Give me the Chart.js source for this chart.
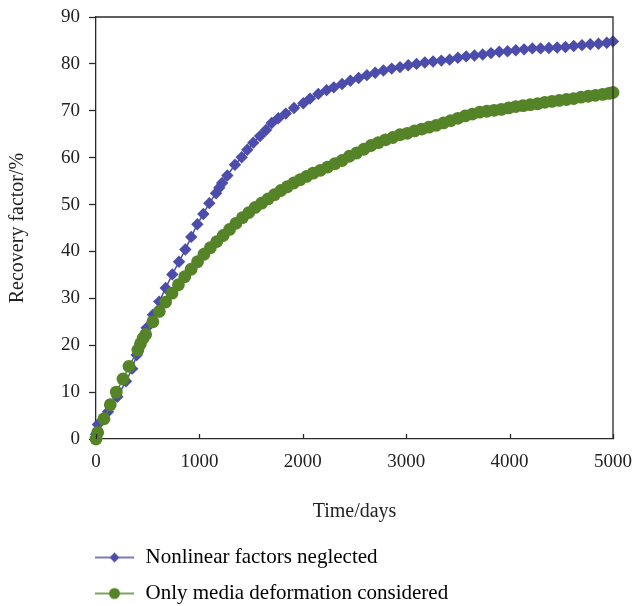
<!DOCTYPE html>
<html><head><meta charset="utf-8">
<script src="https://cdn.jsdelivr.net/npm/chart.js@4.4.1/dist/chart.umd.min.js"></script>
<style>html,body{margin:0;padding:0;background:#fff;}#wrap{width:634px;height:606px;}</style>
</head><body><div id="wrap"><canvas id="c" width="634" height="606"></canvas></div>
<script>
// ---- data ----
const seriesNames = ['Nonlinear factors neglected', 'Only media deformation considered'];

const blueDays = [0, 19, 116, 206, 290, 350, 394, 440, 490, 551, 612, 674, 738, 803, 864, 921, 980, 1038, 1096, 1161, 1192, 1220, 1270, 1344, 1409, 1463, 1521, 1586, 1644, 1699, 1763, 1835, 1915, 2005,
  2070, 2150, 2230, 2300, 2380, 2460, 2540, 2620, 2700, 2780, 2860, 2940, 3020, 3100, 3180, 3260, 3340, 3420, 3500, 3580, 3660, 3740, 3820, 3900, 3980, 4060, 4140, 4220, 4300, 4380, 4460, 4540, 4620, 4700, 4780, 4860, 4940, 5000];
const blueRecovery = [1.0, 3.1, 5.8, 9.0, 12.3, 15.0, 17.9, 20.8, 23.7, 26.5, 29.3, 32.2, 35.1, 37.8, 40.4, 43.1, 45.8, 48.0, 50.3, 52.4, 53.6, 54.6, 56.2, 58.5, 60.1, 61.7, 63.2, 64.6, 65.9, 67.4, 68.4, 69.4, 70.6, 71.6,
  72.6, 73.6, 74.4, 75.0, 75.7, 76.4, 77.0, 77.6, 78.1, 78.6, 79.0, 79.3, 79.7, 80.0, 80.3, 80.5, 80.7, 80.9, 81.3, 81.6, 81.8, 82.0, 82.3, 82.6, 82.7, 82.9, 83.1, 83.3, 83.3, 83.4, 83.5, 83.6, 83.8, 84.0, 84.2, 84.3, 84.5, 84.8];

const greenDays = [0, 16, 77, 138, 196, 261, 319, 405, 430, 455, 480, 550, 612, 673, 735, 797, 858, 920, 982, 1044, 1106, 1168, 1230, 1292, 1354, 1416, 1478, 1540, 1602, 1664, 1726, 1788, 1850, 1912, 1974, 2036,
  2100, 2170, 2240, 2310, 2380, 2450, 2520, 2590, 2660, 2730, 2800, 2870, 2940, 3010, 3080, 3150, 3220, 3290, 3360, 3430, 3500, 3570, 3640, 3710, 3780, 3850, 3920, 3990, 4060, 4130, 4200, 4270, 4340, 4410, 4480, 4550, 4620, 4690, 4760, 4830, 4900, 4960, 5000];
const greenRecovery = [0, 1.4, 4.3, 7.3, 10.0, 12.8, 15.5, 19.0, 20.3, 21.5, 22.3, 25.0, 27.2, 29.2, 31.1, 32.9, 34.6, 36.2, 37.8, 39.4, 40.8, 42.1, 43.4, 44.7, 46.0, 47.2, 48.3, 49.4, 50.3, 51.2, 52.1, 53.0, 53.8, 54.6, 55.3, 56.0,
  56.7, 57.3, 58.0, 58.7, 59.4, 60.3, 61.0, 61.8, 62.6, 63.2, 63.8, 64.3, 64.9, 65.2, 65.7, 66.1, 66.5, 66.9, 67.4, 67.9, 68.4, 68.9, 69.3, 69.7, 69.9, 70.1, 70.3, 70.6, 70.9, 71.1, 71.3, 71.5, 71.8, 72.0, 72.2, 72.4, 72.6, 72.9, 73.1, 73.3, 73.5, 73.7, 73.9];

const xTicks = [0, 1000, 2000, 3000, 4000, 5000];
const yTicks = [0, 10, 20, 30, 40, 50, 60, 70, 80, 90];

// ---- styling ----
const BLUE = '#4b4cab';
const GREEN = '#558327';
const AXIS = '#2a2a2a';
const FONT = "'Liberation Serif', 'Times New Roman', serif";

function toPoints(xs, ys) { return xs.map((x, i) => ({ x: x, y: ys[i] })); }

function legendSample(color, kind) {
  const c = document.createElement('canvas');
  c.width = 120; c.height = 16;
  const g = c.getContext('2d');
  g.strokeStyle = color; g.lineWidth = 1.5;
  g.beginPath(); g.moveTo(80, 8); g.lineTo(119, 8); g.stroke();
  g.fillStyle = color;
  g.beginPath();
  if (kind === 'diamond') {
    g.moveTo(99.5, 3); g.lineTo(104.5, 8); g.lineTo(99.5, 13); g.lineTo(94.5, 8); g.closePath();
  } else {
    g.arc(99.5, 8, 5.5, 0, Math.PI * 2);
  }
  g.fill();
  return c;
}
const samples = [legendSample(BLUE, 'diamond'), legendSample(GREEN, 'circle')];

const frame = {
  id: 'frame',
  afterDatasetsDraw(chart) {
    const { ctx, chartArea: a, scales } = chart;
    ctx.save();
    ctx.strokeStyle = AXIS; ctx.lineWidth = 1.3;
    ctx.beginPath();
    ctx.moveTo(a.left, a.top); ctx.lineTo(a.right, a.top); ctx.lineTo(a.right, a.bottom);
    ctx.stroke();
    ctx.beginPath();
    xTicks.forEach(v => {
      const px = Math.round(scales.x.getPixelForValue(v)) + 0.5;
      ctx.moveTo(px, a.bottom); ctx.lineTo(px, a.bottom - 5);
    });
    ctx.stroke();
    ctx.restore();
  }
};

Chart.defaults.font.family = FONT;
Chart.defaults.color = '#222';

new Chart(document.getElementById('c'), {
  type: 'line',
  data: {
    datasets: [
      {
        label: seriesNames[0], data: toPoints(blueDays, blueRecovery),
        borderColor: BLUE, backgroundColor: BLUE, borderWidth: 1.5,
        pointStyle: 'rectRot', pointRadius: 6.2, pointBorderWidth: 0, pointHoverRadius: 6.2,
        order: 1, clip: false, tension: 0
      },
      {
        label: seriesNames[1], data: toPoints(greenDays, greenRecovery),
        borderColor: GREEN, backgroundColor: GREEN, borderWidth: 1.5,
        pointStyle: 'circle', pointRadius: 6.4, pointBorderWidth: 0, pointHoverRadius: 6.4,
        order: 0, clip: false, tension: 0
      }
    ]
  },
  options: {
    responsive: false, animation: false, devicePixelRatio: 1,
    layout: { padding: { left: 0, right: 21, top: 17, bottom: -8 } },
    plugins: {
      tooltip: { enabled: false },
      legend: {
        position: 'bottom', align: 'start',
        labels: {
          usePointStyle: true, pointStyleWidth: 120, padding: 15,
          font: { size: 21, family: FONT }, color: '#222',
          generateLabels: (chart) => chart.data.datasets.map((ds, i) => ({
            text: ds.label, pointStyle: samples[i], datasetIndex: i,
            fillStyle: ds.borderColor, strokeStyle: ds.borderColor, lineWidth: 0, hidden: false
          }))
        }
      }
    },
    scales: {
      x: {
        type: 'linear', min: 0, max: 5000,
        afterBuildTicks: s => { s.ticks = xTicks.map(v => ({ value: v })); },
        afterFit: s => { s.height = 93; s.paddingLeft = 0; s.paddingRight = 0; },
        grid: { display: false, drawTicks: false },
        border: { display: true, color: AXIS, width: 1.3 },
        ticks: { padding: 12, maxRotation: 0, autoSkip: false, font: { size: 19 }, color: '#222', callback: v => String(v) },
        title: { display: true, text: 'Time/days', font: { size: 20 }, color: '#222', padding: { top: 0, bottom: 8 } }
      },
      y: {
        type: 'linear', min: 0, max: 90,
        afterBuildTicks: s => { s.ticks = yTicks.map(v => ({ value: v })); },
        afterFit: s => { s.width = 96; s.paddingTop = 0; s.paddingBottom = 0; },
        grid: { display: true, drawOnChartArea: false, drawTicks: true, tickLength: 7, color: AXIS, tickWidth: 1.3 },
        border: { display: true, color: AXIS, width: 1.3 },
        ticks: { padding: 9, font: { size: 19 }, color: '#222', callback: v => String(v) },
        title: { display: true, text: 'Recovery factor/%', font: { size: 20 }, color: '#222', padding: { top: 6, bottom: 0 } }
      }
    }
  },
  plugins: [frame]
});
</script>
</body></html>
